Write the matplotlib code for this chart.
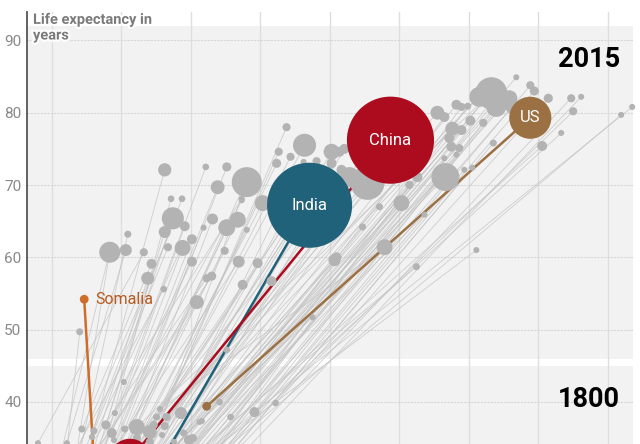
import matplotlib
matplotlib.use('Agg')
import matplotlib.pyplot as plt
import matplotlib.patheffects as pe
from matplotlib.ticker import NullLocator
import numpy as np

plt.rcParams['font.family'] = ['Roboto', 'DejaVu Sans']

# grey countries, position in 2015 (income per person, life expectancy, population in millions)
inc_2015 = [660, 890, 1045, 1066, 1250, 1300, 1350, 1525, 1540, 1540,
            1590, 1640, 1670, 1830, 1840, 1880, 2020, 2020, 2120, 2270,
            2320, 2340, 2460, 2480, 2610, 2800, 2860, 2860, 2860, 3190,
            3220, 3320, 3320, 3350, 3490, 3490, 3890, 4090, 4470, 4700,
            4800, 5190, 5400, 6150, 6210, 6730, 7000, 8130, 8130, 8370,
            8530, 8800, 8980, 9240, 9720, 11070, 11630, 13100, 13790, 16320,
            17680, 18950, 19140, 20530, 23360, 25040, 25040, 25300, 26300, 26840,
            27100, 28240, 28240, 29070, 29700, 29700, 30560, 31600, 32450, 33100,
            34450, 35500, 36900, 40000, 40800, 42000, 44600, 47900, 49300, 51300,
            59000, 61400, 66400, 70600, 80300, 88700, 90500, 98000, 146000, 163000,
            14000, 12500, 15500, 13000, 17000, 13500, 6000, 5500, 7200, 6800,
            38000, 42000, 45000, 37000, 34000, 2800, 1800, 3400, 900, 1700,
            25000, 11500]
life_2015 = [49.7, 60.7, 61.0, 63.2, 60.7, 57.1, 59.1, 55.6, 72.1, 63.5,
             61.4, 68.1, 65.4, 68.1, 61.3, 64.3, 62.5, 59.4, 53.8, 64.1,
             72.5, 57.1, 57.4, 65.3, 69.7, 60.9, 72.5, 64.1, 47.2, 65.2,
             59.4, 68.1, 67.9, 56.2, 70.4, 63.8, 59.2, 67.5, 56.7, 73.0,
             74.6, 78.0, 73.9, 73.2, 75.5, 51.7, 73.3, 74.6, 73.0, 59.6,
             60.0, 74.6, 72.1, 75.0, 71.1, 64.2, 70.3, 67.0, 61.4, 67.5,
             70.0, 58.7, 71.1, 65.9, 80.0, 79.4, 73.7, 71.1, 76.5, 75.3,
             77.8, 81.1, 74.2, 75.1, 80.8, 77.6, 72.1, 80.9, 78.9, 72.4,
             61.0, 82.2, 78.6, 82.7, 75.8, 80.8, 81.8, 82.0, 80.8, 84.9,
             83.8, 83.0, 75.4, 82.0, 77.2, 82.0, 80.2, 82.2, 79.7, 80.8,
             75.8, 74.5, 78.0, 77.0, 74.0, 72.5, 68.0, 66.0, 70.0, 65.5,
             82.0, 82.3, 81.5, 81.6, 81.8, 64.5, 61.0, 70.0, 61.5, 65.0,
             71.5, 70.5]
pop_2015 = [9, 80, 26, 9, 12, 31, 18, 8, 32, 26,
            12, 8, 88, 8, 46, 18, 18, 18, 35, 6.5,
            8, 12, 15, 22, 35, 12, 15, 52, 8, 46,
            26, 6.5, 6.5, 18, 163, 6.5, 18, 46, 18, 15,
            12, 12, 12, 6.5, 96, 6.5, 12, 46, 18, 26,
            18, 18, 18, 18, 72, 9, 210, 9, 46, 46,
            12, 9, 18, 6.5, 35, 18, 6.5, 142, 18, 18,
            35, 18, 6.5, 12, 12, 18, 6.5, 9, 18, 6.5,
            6.5, 72, 12, 185, 9, 72, 59, 46, 35, 6.5,
            12, 15, 18, 15, 6.5, 12, 12, 6.5, 6.5, 6.5,
            3, 3, 3, 3, 3, 3, 3, 3, 3, 3,
            3, 3, 3, 3, 3, 3, 3, 3, 3, 3,
            3, 3]

# the same countries in 1800
inc_1800 = [560, 620, 581, 640, 435, 700, 674, 590, 745, 730,
            760, 820, 857, 680, 908, 780, 928, 650, 710, 880,
            936, 600, 760, 1055, 900, 820, 1034, 950, 850, 1000,
            780, 1024, 950, 880, 1100, 1050, 990, 1166, 1100, 1200,
            1327, 1250, 1380, 1300, 1420, 1150, 1500, 1400, 1350, 1200,
            1450, 1540, 1600, 1690, 1500, 1700, 1200, 1800, 1470, 1860,
            1900, 1700, 2040, 1750, 1570, 2000, 1800, 1960, 2180, 1900,
            1810, 2230, 2100, 2300, 2500, 1600, 2400, 2600, 2200, 2800,
            1800, 1327, 2500, 1166, 3000, 3770, 2660, 2970, 2400, 2100,
            2800, 2900, 2000, 4650, 2200, 3200, 2700, 3400, 2600, 2300,
            1300, 1100, 1500, 1250, 1650, 1400, 1000, 900, 1150, 850,
            2000, 2300, 2600, 1900, 1700, 700, 650, 900, 520, 600,
            1500, 1000]
life_1800 = [29.0, 30.5, 34.3, 31.0, 34.3, 30.0, 36.25, 31.5, 35.15, 29.5,
             35.98, 32.0, 36.81, 32.5, 35.7, 30.5, 34.73, 28.5, 31.2, 31.8,
             38.46, 30.0, 32.8, 34.46, 33.0, 29.5, 36.25, 30.8, 31.0, 32.2,
             30.0, 42.75, 33.5, 29.0, 25.5, 31.5, 30.2, 35.0, 31.0, 33.0,
             34.46, 32.0, 36.81, 30.5, 37.91, 29.0, 35.42, 33.2, 31.5, 30.0,
             32.5, 36.67, 31.8, 34.46, 32.5, 33.5, 30.0, 32.0, 39.02, 35.7,
             33.0, 30.5, 35.0, 32.0, 37.91, 33.4, 31.5, 34.73, 37.22, 33.5,
             38.46, 37.36, 32.5, 33.2, 33.5, 32.8, 31.0, 33.3, 33.0, 32.0,
             30.0, 35.84, 33.0, 36.53, 33.0, 38.6, 39.98, 37.91, 32.8, 33.2,
             33.5, 33.4, 32.0, 39.85, 31.5, 33.5, 33.0, 33.1, 32.5, 33.0,
             31.0, 30.5, 32.0, 31.5, 33.0, 30.0, 30.0, 28.5, 31.0, 29.5,
             33.0, 32.8, 33.2, 32.5, 33.0, 29.5, 30.5, 29.0, 30.0, 31.0,
             32.0, 30.5]
pop_1800 = [2, 4, 6.5, 2, 6.5, 3, 9, 2, 6.5, 3,
            9, 2, 15, 2, 18, 3, 6.5, 3, 4, 3,
            6.5, 3, 3, 6.5, 5, 4, 9, 6, 1, 5,
            3, 3, 2, 4, 19, 2, 3, 12, 2, 3,
            12, 2, 12, 3, 9, 2, 6.5, 8, 4, 5,
            2, 12, 3, 6.5, 10, 2, 18, 2, 6.5, 9,
            3, 1, 12, 2, 12, 4, 3, 18, 6.5, 3,
            26, 6.5, 2, 3, 4, 5, 2, 3, 4, 1,
            1, 35, 3, 46, 1, 18, 8, 8, 4, 2,
            2, 2, 1, 8, 1, 2, 1, 1, 1, 1,
            3, 4, 2, 3, 2, 5, 4, 3, 2, 6,
            4, 3, 2, 5, 3, 2, 2, 2, 1, 2,
            2, 3]

# highlighted countries
hl_names = ['Somalia', 'US', 'India', 'China']
hl_inc_1800 = [766, 2340, 1140, 1090]
hl_life_1800 = [30.0, 39.4, 25.4, 32.0]
hl_pop_1800 = [1, 14, 176, 320]
hl_inc_2015 = [690, 59000, 6530, 14630]
hl_life_2015 = [54.2, 79.3, 67.2, 76.2]
hl_pop_2015 = [14, 321, 1311, 1376]
hl_colors = ['#cf6c2a', '#9b7042', '#20627a', '#ad0c1e']

grid_x = [500, 1000, 2000, 4000, 8000, 16000, 32000, 64000, 128000]
y_ticks = [40, 50, 60, 70, 80, 90]


def sizes(pop):
    return np.maximum(2.86 * np.array(pop, dtype=float), 19)


fig = plt.figure(figsize=(6.4, 4.44), dpi=100)
ax = fig.add_axes([27 / 640, 0, 606 / 640, 432 / 444])
ax.set_xscale('log')
ax.set_xlim(390, 164300)
ax.set_ylim(34.18, 93.93)

# two panels with a white gap between them
ax.axhspan(45.9, 92, color='#f2f2f2', zorder=0, lw=0)
ax.axhspan(30, 45.0, color='#f2f2f2', zorder=0, lw=0)
for gx in grid_x:
    ax.axvline(gx, color='#dedede', lw=1, zorder=1)
for gy in y_ticks:
    ax.axhline(gy, color='#d6d6d6', lw=0.8, ls=(0, (2, 1)), zorder=1)

# paths 1800 -> 2015
for i in range(len(inc_2015)):
    ax.plot([inc_1800[i], inc_2015[i]], [life_1800[i], life_2015[i]],
            color='#c4c4c4', lw=0.6, alpha=0.8, zorder=2)
for i in range(len(hl_names)):
    ax.plot([hl_inc_1800[i], hl_inc_2015[i]], [hl_life_1800[i], hl_life_2015[i]],
            color=hl_colors[i], lw=1.8, zorder=3, solid_capstyle='butt')

ax.scatter(inc_1800, life_1800, s=sizes(pop_1800), color='#b3b3b3', lw=0, zorder=4)
ax.scatter(inc_2015, life_2015, s=sizes(pop_2015), color='#b3b3b3', lw=0, zorder=4,
           clip_on=False)
ax.scatter(hl_inc_1800, hl_life_1800, s=sizes(hl_pop_1800), color=hl_colors, lw=0, zorder=5)
ax.scatter(hl_inc_2015, hl_life_2015, s=sizes(hl_pop_2015), color=hl_colors, lw=0, zorder=5)

for i in range(1, len(hl_names)):
    ax.text(hl_inc_2015[i], hl_life_2015[i], hl_names[i], color='white', fontsize=12,
            ha='center', va='center', zorder=6)
ax.annotate('Somalia', (hl_inc_2015[0], hl_life_2015[0]), xytext=(8, 0),
            textcoords='offset points', color='#b95a1f', fontsize=11.5,
            ha='left', va='center', zorder=6)

ax.text(0.9786, 0.8727, '2015', transform=ax.transAxes, fontsize=19.5,
        fontweight='bold', ha='right', va='baseline', zorder=6)
ax.text(0.9786, 0.0856, '1800', transform=ax.transAxes, fontsize=19.5,
        fontweight='bold', ha='right', va='baseline', zorder=6)
ax.text(0.0099, 0.998, 'Life expectancy in\nyears', transform=ax.transAxes,
        fontsize=10.5, fontweight='bold', color='#7a7a7a', ha='left', va='top',
        linespacing=1.15, zorder=7,
        path_effects=[pe.withStroke(linewidth=3, foreground='white')])

ax.set_xticks([])
ax.xaxis.set_minor_locator(NullLocator())
ax.set_yticks(y_ticks)
ax.tick_params(axis='y', length=0, pad=4, labelcolor='#888888', labelsize=11)
for side in ['top', 'right', 'bottom']:
    ax.spines[side].set_visible(False)
ax.spines['left'].set_color('#555555')
ax.spines['left'].set_linewidth(1.3)
ax.set_facecolor('white')

fig.savefig('out.png', dpi=100)
